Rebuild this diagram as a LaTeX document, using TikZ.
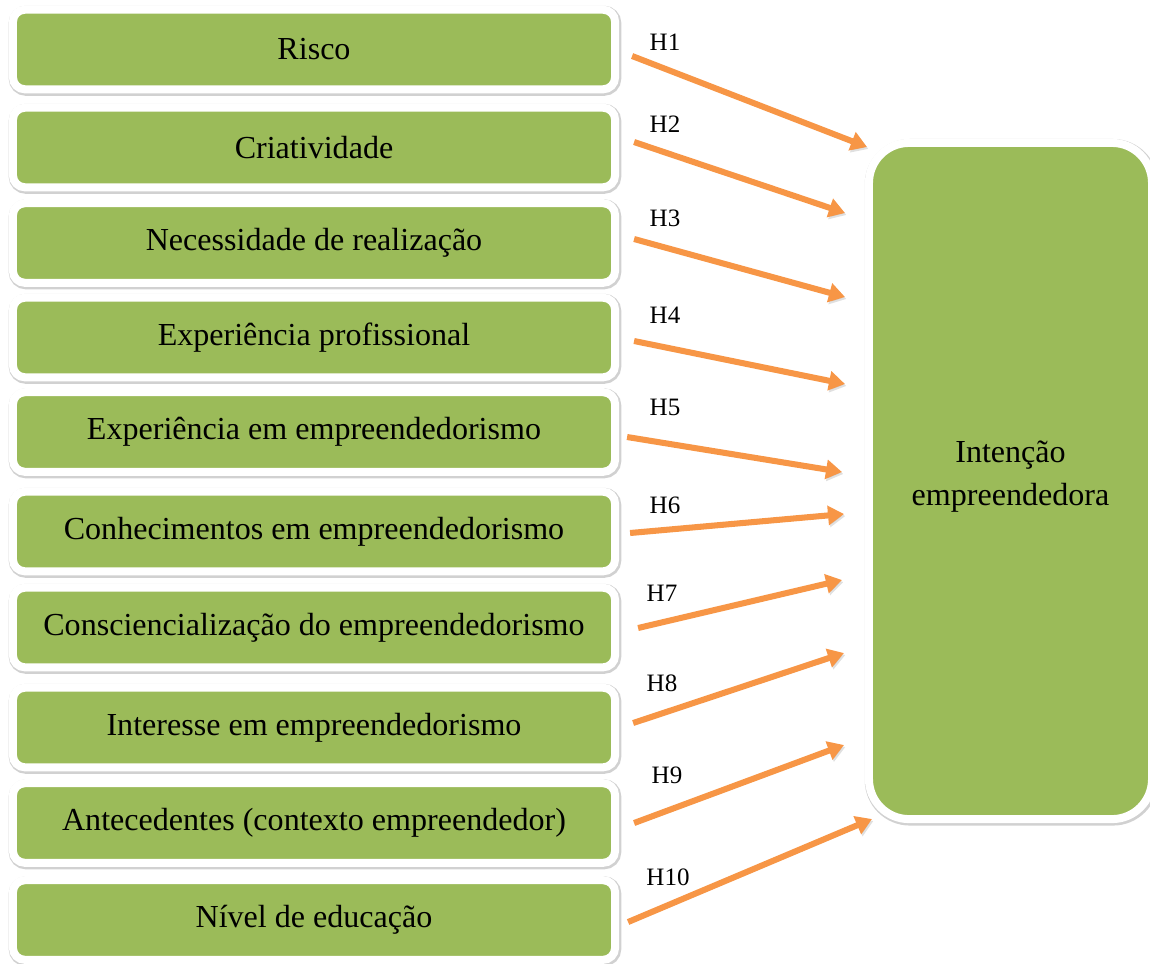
\documentclass[tikz,border=0pt]{standalone}
\usepackage{fontspec}
\setmainfont{Liberation Serif}
\usetikzlibrary{arrows.meta}
\definecolor{factorgreen}{HTML}{9BBB59}
\definecolor{hypoorange}{HTML}{F79646}
\tikzset{
    factor/.style={rectangle, rounded corners=0.3cm, fill=factorgreen, draw=white, line width=5.7pt,
        minimum width=15.05cm, minimum height=1.99cm, align=center, font=\fontsize{22.8}{27}\selectfont,
        preaction={draw=black!18, line width=7.4pt, transform canvas={xshift=0.7pt,yshift=-0.9pt}}},
    target/.style={factor, rounded corners=1cm, minimum width=7.075cm, minimum height=16.9cm,
        font=\fontsize{22.8}{30.6}\selectfont, text depth=0.4cm},
    hypothesis/.style={draw=hypoorange, line width=4.3pt, -{Triangle[length=0.4cm,width=0.47cm]},
        preaction={draw=black!35, opacity=0.35, transform canvas={xshift=1pt,yshift=-1.4pt}}},
    hlabel/.style={inner sep=0pt, font=\fontsize{17.8}{20}\selectfont}
}
\begin{document}
\begin{tikzpicture}[x=0.025cm, y=-0.025cm]
    \useasboundingbox (0,0) rectangle (1150,963);

    \node at (314,49.5) [factor] (Risco) {Risco};
    \node at (314,147.5) [factor] (Criatividade) {Criatividade};
    \node at (314,243) [factor] (Necessidade) {Necessidade de realização};
    \node at (314,337.5) [factor] (ExpProfissional) {Experiência profissional};
    \node at (314,432) [factor] (ExpEmpreend) {Experiência em empreendedorismo};
    \node at (314,531.5) [factor] (Conhecimentos) {Conhecimentos em empreendedorismo};
    \node at (314,627.5) [factor] (Consciencializacao) {Consciencialização do empreendedorismo};
    \node at (314,727.5) [factor] (Interesse) {Interesse em empreendedorismo};
    \node at (314,823) [factor] (Antecedentes) {Antecedentes (contexto empreendedor)};
    \node at (314,920) [factor] (Educacao) {Nível de educação};

    \node at (1010.5,481) [target] (Intencao) {Intenção\\empreendedora};

    % arrow heads in front of the target box
    \coordinate (e1) at (867,147);
    \coordinate (e2) at (845,213);
    \coordinate (e3) at (845,297);
    \coordinate (e4) at (845,384);
    \coordinate (e5) at (842,472);
    \coordinate (e6) at (844,514);
    \coordinate (e7) at (842,580);
    \coordinate (e8) at (844,653);
    \coordinate (e9) at (844,745);
    \coordinate (e10) at (872,819);

    \draw[hypothesis] ([shift={(13,6.5)}]Risco.east) -- (e1);
    \draw[hypothesis] ([shift={(15,-5.5)}]Criatividade.east) -- (e2);
    \draw[hypothesis] ([shift={(15,-4)}]Necessidade.east) -- (e3);
    \draw[hypothesis] ([shift={(15,3.5)}]ExpProfissional.east) -- (e4);
    \draw[hypothesis] ([shift={(8,5)}]ExpEmpreend.east) -- (e5);
    \draw[hypothesis] ([shift={(11,1.5)}]Conhecimentos.east) -- (e6);
    \draw[hypothesis] ([shift={(19,0.5)}]Consciencializacao.east) -- (e7);
    \draw[hypothesis] ([shift={(14,-4.5)}]Interesse.east) -- (e8);
    \draw[hypothesis] ([shift={(15,0)}]Antecedentes.east) -- (e9);
    \draw[hypothesis] ([shift={(9,2)}]Educacao.east) -- (e10);

    \node at (665,42) [hlabel] (H1) {H1};
    \node at (665,124) [hlabel] (H2) {H2};
    \node at (665,218) [hlabel] (H3) {H3};
    \node at (665,315) [hlabel] (H4) {H4};
    \node at (665,407) [hlabel] (H5) {H5};
    \node at (665,505) [hlabel] (H6) {H6};
    \node at (662,593) [hlabel] (H7) {H7};
    \node at (662,683) [hlabel] (H8) {H8};
    \node at (667,775) [hlabel] (H9) {H9};
    \node at (668,877) [hlabel] (H10) {H10};
\end{tikzpicture}
\end{document}
